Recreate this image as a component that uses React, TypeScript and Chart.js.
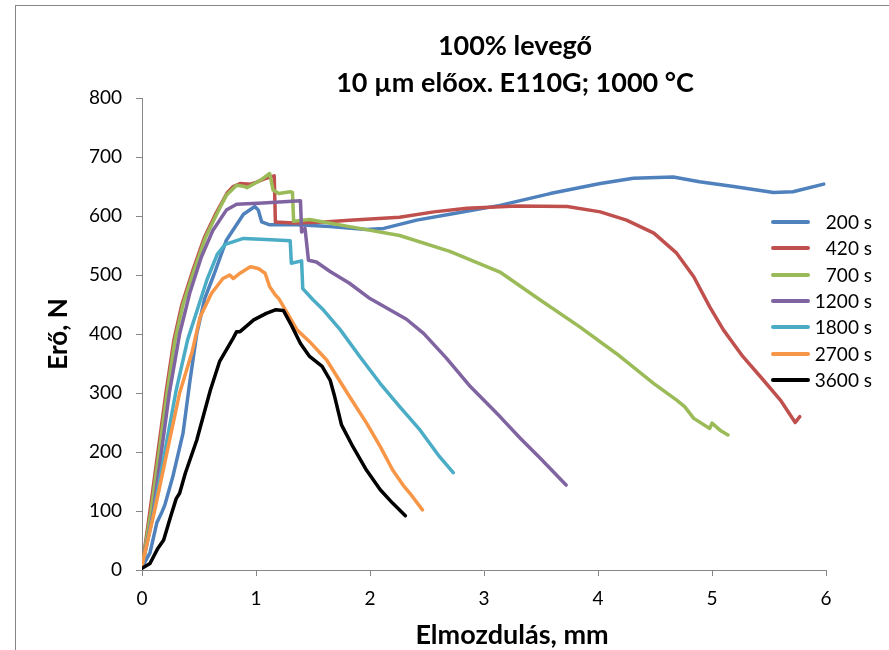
import React, { useEffect, useRef } from "react";
import { Chart, registerables } from "chart.js";

Chart.register(...registerables);

const titleLines = ["100% levegő", "10 µm előox. E110G; 1000 °C"];
const xAxisTitle = "Elmozdulás, mm";
const yAxisTitle = "Erő, N";

const xTicks = [0, 1, 2, 3, 4, 5, 6];
const yTicks = [0, 100, 200, 300, 400, 500, 600, 700, 800];

const seriesNames = ["200 s", "420 s", "700 s", "1200 s", "1800 s", "2700 s", "3600 s"];
const seriesColors = ["#4F81BD", "#C0504D", "#9BBB59", "#8064A2", "#4BACC6", "#F79646", "#000000"];

const s200: number[][] = [
  [0, 5], [0.07, 29], [0.13, 80], [0.17, 96], [0.2, 110], [0.27, 158], [0.36, 232], [0.42, 320],
  [0.48, 400], [0.55, 460], [0.63, 500], [0.74, 559], [0.89, 603], [0.99, 616], [1.02, 610],
  [1.05, 590], [1.12, 585], [1.36, 585], [1.65, 582], [1.97, 577], [2.12, 579], [2.41, 593],
  [2.7, 603], [3.14, 618], [3.58, 638], [4.02, 655], [4.31, 664], [4.66, 666], [4.89, 658],
  [5.19, 650], [5.54, 640], [5.71, 641], [5.98, 654],
];

const s420: number[][] = [
  [0, 5], [0.07, 100], [0.14, 200], [0.21, 300], [0.28, 390], [0.35, 450], [0.45, 510],
  [0.55, 565], [0.65, 605], [0.75, 640], [0.8, 650], [0.86, 655], [0.95, 654], [1.0, 657],
  [1.09, 664], [1.16, 668], [1.17, 590], [1.33, 588], [1.6, 590], [1.82, 593], [2.26, 598],
  [2.56, 607], [2.85, 613], [3.29, 617], [3.73, 616], [4.02, 607], [4.25, 593], [4.49, 571],
  [4.69, 537], [4.84, 497], [4.98, 446], [5.1, 407], [5.27, 362], [5.45, 322], [5.6, 288],
  [5.73, 250], [5.77, 260],
];

const s700: number[][] = [
  [0, 5], [0.08, 100], [0.15, 200], [0.22, 300], [0.29, 390], [0.36, 450], [0.46, 510],
  [0.56, 565], [0.66, 605], [0.74, 635], [0.83, 652], [0.9, 650], [0.92, 648], [1.05, 662],
  [1.12, 672], [1.15, 644], [1.2, 638], [1.3, 641], [1.32, 640], [1.33, 591], [1.47, 594],
  [1.82, 582], [2.26, 567], [2.7, 540], [3.14, 505], [3.49, 458], [3.84, 412], [4.16, 367],
  [4.49, 316], [4.69, 288], [4.76, 277], [4.84, 257], [4.98, 240], [5.0, 249], [5.07, 237],
  [5.14, 229],
];

const s1200: number[][] = [
  [0, 5], [0.1, 100], [0.17, 200], [0.24, 300], [0.33, 400], [0.42, 470], [0.52, 530],
  [0.62, 575], [0.74, 610], [0.83, 620], [1.06, 622], [1.39, 626], [1.4, 573], [1.43, 579],
  [1.46, 525], [1.53, 522], [1.65, 506], [1.82, 486], [2.0, 460], [2.32, 425], [2.47, 401],
  [2.67, 359], [2.88, 311], [3.14, 260], [3.32, 223], [3.5, 188], [3.72, 144],
];

const s1800: number[][] = [
  [0, 5], [0.1, 95], [0.2, 200], [0.3, 305], [0.4, 390], [0.5, 450], [0.57, 492], [0.66, 535],
  [0.73, 552], [0.89, 562], [1.09, 560], [1.3, 558], [1.31, 520], [1.4, 524], [1.41, 477],
  [1.5, 458], [1.59, 441], [1.74, 407], [1.91, 362], [2.09, 316], [2.26, 277], [2.44, 237],
  [2.61, 192], [2.73, 165],
];

const s2700: number[][] = [
  [0, 8], [0.11, 100], [0.22, 200], [0.33, 300], [0.44, 370], [0.51, 429], [0.61, 469],
  [0.71, 494], [0.77, 500], [0.8, 494], [0.86, 503], [0.95, 514], [1.02, 511], [1.08, 503],
  [1.12, 480], [1.17, 466], [1.2, 460], [1.27, 437], [1.36, 407], [1.47, 387], [1.62, 356],
  [1.71, 328], [1.82, 294], [1.97, 249], [2.09, 209], [2.2, 169], [2.29, 144], [2.35, 130],
  [2.46, 102],
];

const s3600: number[][] = [
  [0, 3], [0.07, 11], [0.14, 37], [0.19, 51], [0.25, 90], [0.3, 121], [0.33, 130], [0.38, 164],
  [0.48, 220], [0.6, 305], [0.68, 353], [0.8, 393], [0.83, 404], [0.86, 404], [0.98, 424],
  [1.09, 435], [1.17, 441], [1.24, 440], [1.31, 415], [1.39, 384], [1.47, 362], [1.58, 345],
  [1.65, 322], [1.69, 294], [1.75, 246], [1.85, 209], [1.97, 169], [2.09, 136], [2.2, 113],
  [2.31, 92],
];

const seriesData = [s200, s420, s700, s1200, s1800, s2700, s3600];

const FONT = "Lato, 'Open Sans', sans-serif";
const AXIS_COLOR = "#868686";

export default function App() {
  const canvasRef = useRef<HTMLCanvasElement | null>(null);

  useEffect(() => {
    const canvas = canvasRef.current;
    if (!canvas) return;
    const n = seriesData.length;
    const chart = new Chart(canvas, {
      type: "line",
      data: {
        datasets: seriesData.map((d, i) => ({
          label: seriesNames[i],
          data: d.map(([x, y]) => ({ x, y })),
          borderColor: seriesColors[i],
          backgroundColor: seriesColors[i],
          borderWidth: 3.5,
          pointRadius: 0,
          tension: 0,
          fill: false,
          borderCapStyle: "round",
          borderJoinStyle: "round",
          order: n - i,
        })),
      },
      options: {
        responsive: false,
        animation: false,
        events: [],
        layout: { padding: { top: 98, right: 63, bottom: 0, left: 0 } },
        plugins: {
          legend: { display: false },
          title: { display: false },
          tooltip: { enabled: false },
        },
        scales: {
          x: {
            type: "linear",
            min: xTicks[0],
            max: xTicks[xTicks.length - 1],
            afterBuildTicks: (s: any) => {
              s.ticks = xTicks.map((v) => ({ value: v }));
            },
            afterFit: (s: any) => {
              s.height = 80;
            },
            grid: { drawOnChartArea: false, drawTicks: true, tickLength: 6, color: AXIS_COLOR },
            border: { display: true, color: AXIS_COLOR, width: 1 },
            ticks: { color: "#000", font: { family: FONT, size: 19 }, padding: 11, maxRotation: 0 },
          },
          y: {
            type: "linear",
            min: yTicks[0],
            max: yTicks[yTicks.length - 1],
            afterBuildTicks: (s: any) => {
              s.ticks = yTicks.map((v) => ({ value: v }));
            },
            afterFit: (s: any) => {
              s.width = 142;
            },
            grid: { drawOnChartArea: false, drawTicks: true, tickLength: 6, color: AXIS_COLOR },
            border: { display: true, color: AXIS_COLOR, width: 1 },
            ticks: { color: "#000", font: { family: FONT, size: 19 }, padding: 14 },
            title: {
              display: true,
              text: yAxisTitle,
              color: "#000",
              font: { family: FONT, size: 26, weight: "bold" },
              padding: { top: 43, bottom: 0 },
            },
          },
        },
      },
    } as any);
    return () => chart.destroy();
  }, []);

  const legendTop = 221.7;
  const legendStep = 26.4;

  return (
    <div
      style={{
        position: "absolute",
        left: 0,
        top: 0,
        width: 889,
        height: 650,
        overflow: "hidden",
        background: "#fff",
        fontFamily: FONT,
        color: "#000",
      }}
    >
      <div
        style={{
          position: "absolute",
          left: 15,
          top: 5,
          width: 1000,
          height: 1000,
          border: `1px solid ${AXIS_COLOR}`,
        }}
      />
      <canvas ref={canvasRef} width={889} height={650} style={{ position: "absolute", left: 0, top: 0, display: "block" }} />
      {titleLines.map((t, i) => (
        <div
          key={t}
          style={{
            position: "absolute",
            left: 515,
            top: 29 + i * 37,
            transform: "translateX(-50%)",
            whiteSpace: "nowrap",
            fontWeight: "bold",
            fontSize: 27,
            lineHeight: "32px",
          }}
        >
          {t}
        </div>
      ))}
      <div
        style={{
          position: "absolute",
          left: 512,
          top: 619,
          transform: "translateX(-50%)",
          whiteSpace: "nowrap",
          fontWeight: "bold",
          fontSize: 27,
          lineHeight: "30px",
        }}
      >
        {xAxisTitle}
      </div>
      {seriesNames.map((name, i) => {
        const cy = legendTop + i * legendStep;
        return (
          <React.Fragment key={name}>
            <div
              style={{
                position: "absolute",
                left: 771,
                top: cy - 2,
                width: 39,
                height: 4,
                borderRadius: 2,
                background: seriesColors[i],
              }}
            />
            <div
              style={{
                position: "absolute",
                right: 889 - 872,
                top: cy - 11,
                fontSize: 19,
                lineHeight: "22px",
                whiteSpace: "nowrap",
                textAlign: "right",
              }}
            >
              {name}
            </div>
          </React.Fragment>
        );
      })}
    </div>
  );
}
